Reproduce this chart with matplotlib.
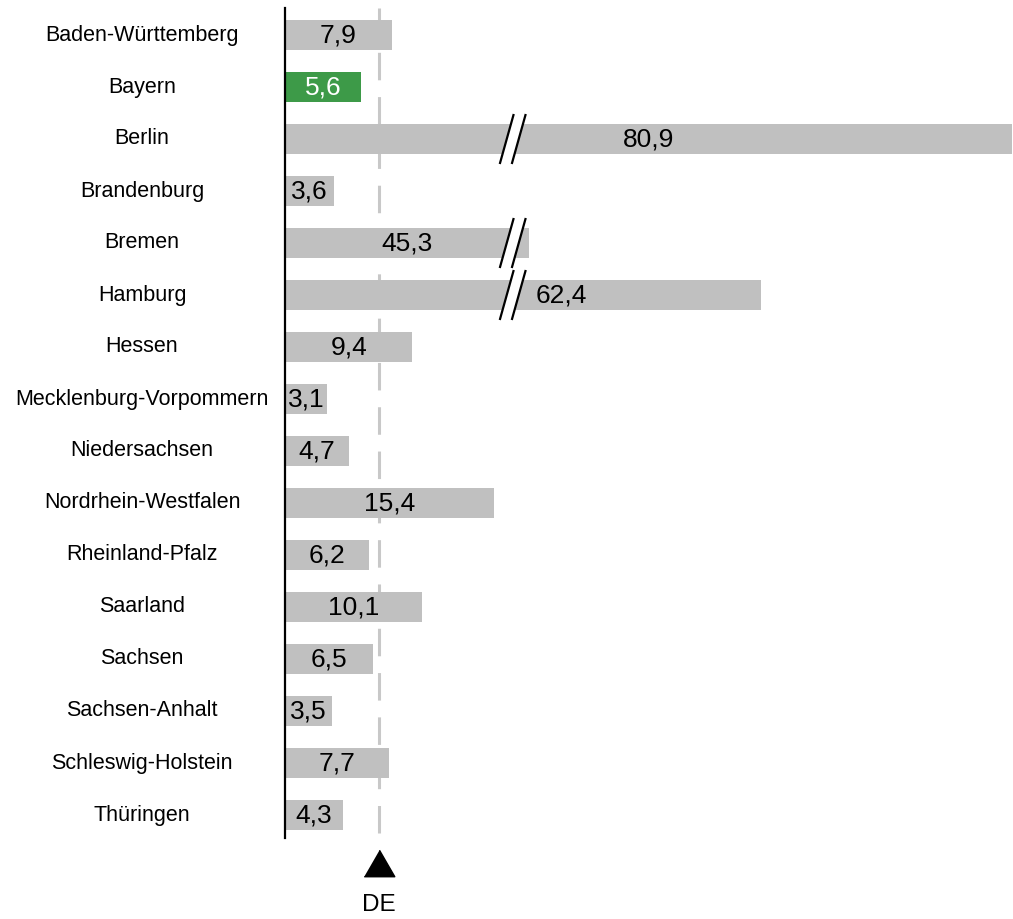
import matplotlib.pyplot as plt
from matplotlib.patches import Polygon

plt.rcParams['font.family'] = ['Liberation Sans', 'DejaVu Sans']

# Data
states = ['Baden-Württemberg', 'Bayern', 'Berlin', 'Brandenburg', 'Bremen', 'Hamburg',
          'Hessen', 'Mecklenburg-Vorpommern', 'Niedersachsen', 'Nordrhein-Westfalen',
          'Rheinland-Pfalz', 'Saarland', 'Sachsen', 'Sachsen-Anhalt', 'Schleswig-Holstein',
          'Thüringen']
values = [7.9, 5.6, 80.9, 3.6, 45.3, 62.4, 9.4, 3.1, 4.7, 15.4, 6.2, 10.1, 6.5, 3.5, 7.7, 4.3]
de_value = 6.9
highlight = 'Bayern'

# broken axis: values above the cut are shifted left by `gap`
cut = 16.8
gap = 27.3

grey = '#C0C0C0'
green = '#3D9A48'

fig = plt.figure(figsize=(10.13, 9.19), dpi=100)
ax = fig.add_axes([285 / 1013, 78 / 919, 728 / 1013, 832 / 919])
ax.set_xlim(0, 53.7)
ax.set_ylim(15.5, -0.5)
ax.axis('off')

px = 53.7 / 728   # one pixel in x data units
py = 1 / 52       # one pixel in y data units

# reference line for Germany
ax.plot([de_value, de_value], [-0.52, 15.55], color='#C8C8C8', lw=2.2,
        dashes=(9, 5.5), clip_on=False, zorder=1)
ax.plot([de_value], [15.93], marker=[(-1, -0.866), (1, -0.866), (0, 0.866)],
        markersize=22, color='black', clip_on=False, zorder=3)
ax.text(de_value, 16.73, 'DE', ha='center', va='center', fontsize=17.5, clip_on=False)

for i, (name, v) in enumerate(zip(states, values)):
    broken = v > cut
    shown = v - gap if broken else v
    color = green if name == highlight else grey
    ax.barh(i, shown, height=0.56, color=color, zorder=2)

    label = f'{v:.1f}'.replace('.', ',')
    txt_color = 'white' if name == highlight else 'black'
    if name == 'Hamburg':
        lx = cut + 3.6
    else:
        lx = shown / 2
    ax.text(lx, i, label, ha='center', va='center', fontsize=19, color=txt_color, zorder=5)

    ax.text(-143 * px, i, name, ha='center', va='center', fontsize=15.5, clip_on=False)

    if broken:
        # break marker: two slanted strokes with a white gap
        x0 = cut - 6 * px
        dx = 7 * px
        dy = 25 * py
        sep = 12 * px
        gap_poly = Polygon([(x0 - dx, i + dy), (x0 + dx, i - dy),
                            (x0 + sep + dx, i - dy), (x0 + sep - dx, i + dy)],
                           closed=True, facecolor='white', edgecolor='none', zorder=3)
        ax.add_patch(gap_poly)
        for s in (0, sep):
            ax.plot([x0 + s - dx, x0 + s + dx], [i + dy, i - dy], color='black',
                    lw=1.6, zorder=4, solid_capstyle='butt')

# category axis
ax.plot([0, 0], [-0.52, 15.45], color='black', lw=1.6, clip_on=False, zorder=4)

plt.savefig('out.png', dpi=100)
